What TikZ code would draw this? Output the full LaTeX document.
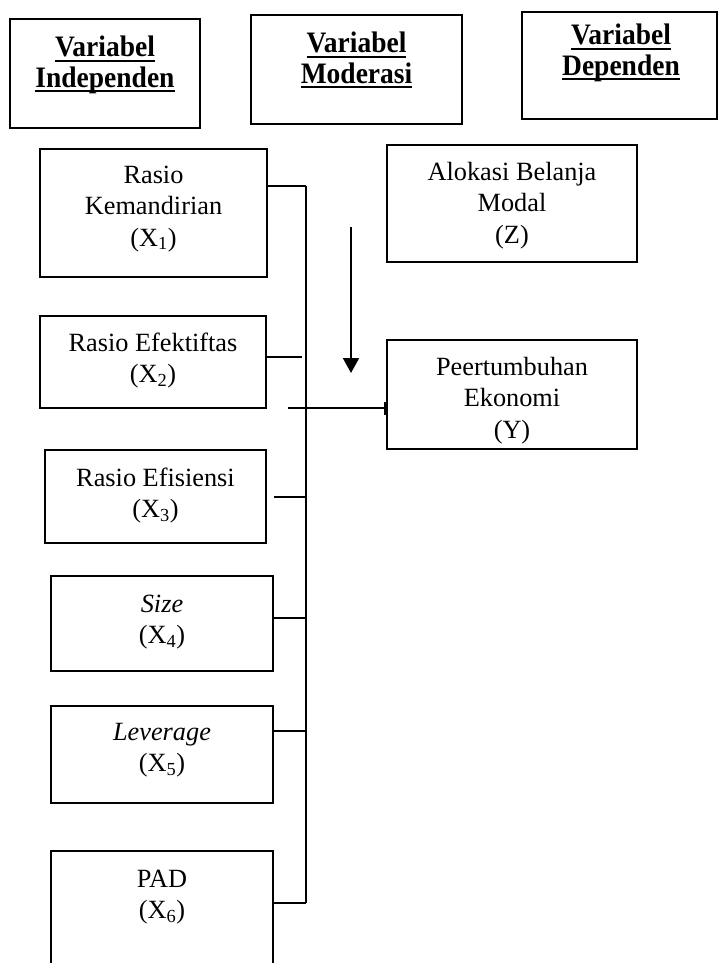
\documentclass[tikz,border=0pt]{standalone}
\usepackage{fontspec}
\setmainfont{Liberation Serif}
\usetikzlibrary{arrows.meta}
\newcommand\stacklines[1]{\begin{tabular}[t]{@{}c@{}}#1\end{tabular}}
\newcommand\ulbf[1]{\setbox0\hbox{#1}\rlap{\rule[-5pt]{\wd0}{2.2pt}}\box0}
\begin{document}
\begin{tikzpicture}[x=1pt,y=-1pt,
  box/.style={draw, line width=1.3pt, inner sep=0pt},
  txt/.style={anchor=base, inner sep=0pt, font=\fontsize{26.3}{31.5}\selectfont},
  head/.style={anchor=base, inner sep=0pt, font=\fontsize{27.5}{27.8}\selectfont\bfseries},
  wire/.style={line width=1.3pt}]
\clip (0,0) rectangle (719,963);
\fill[white] (0,0) rectangle (719,963);
% header boxes
\node[box, minimum width=190pt, minimum height=109pt] (h1) at (105,73.5) {};
\node[box, minimum width=211pt, minimum height=109pt] (h2) at (356.5,69.5) {};
\node[box, minimum width=195pt, minimum height=107pt] (h3) at (619.5,65.5) {};
\node[head] (t1) at (105,57) {\scalebox{1}[1.08]{\stacklines{\ulbf{Variabel}\\\ulbf{Independen}}}};
\node[head] (t2) at (356.5,53) {\scalebox{1}[1.08]{\stacklines{\ulbf{Variabel}\\\ulbf{Moderasi}}}};
\node[head] (t3) at (621,45) {\scalebox{1}[1.08]{\stacklines{\ulbf{Variabel}\\\ulbf{Dependen}}}};
% variable boxes
\node[box, minimum width=227pt, minimum height=128pt] (x1) at (153.5,213) {};
\node[box, minimum width=250pt, minimum height=117pt] (z) at (512,203.5) {};
\node[box, minimum width=226pt, minimum height=92pt] (x2) at (153,362) {};
\node[box, minimum width=250pt, minimum height=109pt] (y) at (512,394.5) {};
\node[box, minimum width=221pt, minimum height=93pt] (x3) at (155.5,496.5) {};
\node[box, minimum width=222pt, minimum height=95pt] (x4) at (162,623.5) {};
\node[box, minimum width=222pt, minimum height=97pt] (x5) at (162,754.5) {};
\node[box, minimum width=222pt, minimum height=134pt] (x6) at (162,918) {};
% texts
\node[txt] (tx1) at (153.5,183) {\stacklines{Rasio\\Kemandirian\\(X\textsubscript{1})}};
\node[txt] (tz) at (512,180) {\stacklines{Alokasi Belanja\\Modal\\(Z)}};
\node[txt] (tx2) at (153,351) {\stacklines{Rasio Efektiftas\\(X\textsubscript{2})}};
\node[txt] (ty) at (512,375) {\stacklines{Peertumbuhan\\Ekonomi\\(Y)}};
\node[txt] (tx3) at (155.5,486) {\stacklines{Rasio Efisiensi\\(X\textsubscript{3})}};
\node[txt] (tx4) at (162,612) {\stacklines{\textit{Size}\\(X\textsubscript{4})}};
\node[txt] (tx5) at (162,740) {\stacklines{\textit{Leverage}\\(X\textsubscript{5})}};
\node[txt] (tx6) at (162,887) {\stacklines{PAD\\(X\textsubscript{6})}};
% bus
\coordinate (bt) at (306,186);
\coordinate (bb) at (306,903);
\coordinate (c2) at (302,357);
\coordinate (c3) at (306,497);
\coordinate (c4) at (306,618);
\coordinate (c5) at (306,731);
\draw[wire] (bt) -- (bb);
\draw[wire] (x1.east |- bt) -- (bt);
\draw[wire] (x2.east |- c2) -- (c2);
\draw[wire] ([xshift=7pt]x3.east |- c3) -- (c3);
\draw[wire] (x4.east |- c4) -- (c4);
\draw[wire] (x5.east |- c5) -- (c5);
\draw[wire] (x6.east |- bb) -- (bb);
% arrow into Y
\coordinate (hs) at (288,408);
\draw[wire, -{Bar[width=13pt, line width=2.4pt]}] (hs) -- (y.west |- hs);
% moderation arrow
\coordinate (as) at (351,227);
\coordinate (ae) at (351,373);
\draw[line width=2pt, -{Triangle[width=16pt, length=15pt]}] (as) -- (ae);
\end{tikzpicture}
\end{document}
